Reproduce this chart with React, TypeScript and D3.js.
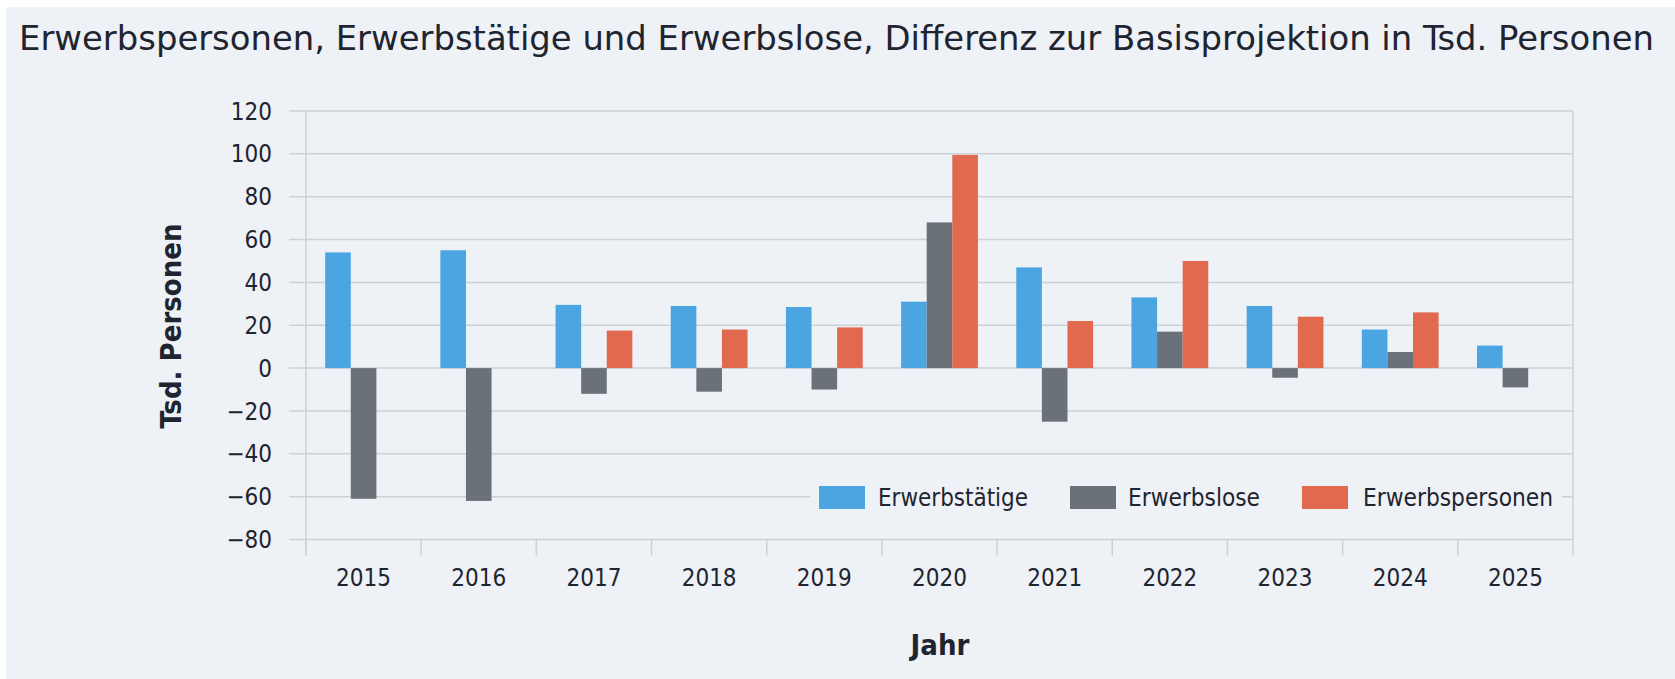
import * as d3 from "d3";

const years = ["2015", "2016", "2017", "2018", "2019", "2020", "2021", "2022", "2023", "2024", "2025"];
const seriesNames = ["Erwerbstätige", "Erwerbslose", "Erwerbspersonen"];
const erwerbstaetige = [54, 55, 29.5, 29, 28.5, 31, 47, 33, 29, 18, 10.5];
const erwerbslose = [-61, -62, -12, -11, -10, 68, -25, 17, -4.5, 7.5, -9];
const erwerbspersonen = [null, null, 17.5, 18, 19, 99.5, 22, 50, 24, 26, null];
const seriesColors = ["#4ba5e0", "#6b7179", "#e1694f"];
const yTicks = [120, 100, 80, 60, 40, 20, 0, -20, -40, -60, -80];

const W = 1675;
const H = 679;
const FONT = "'DejaVu Sans Condensed', 'DejaVu Sans', sans-serif";

export default function App() {
  const left = 306, right = 1573, top = 111, bottom = 539.5;
  const seriesValues = [erwerbstaetige, erwerbslose, erwerbspersonen];

  const x0 = d3.scaleBand().domain(years).range([left, right]).padding(0);
  const x1 = d3.scaleBand().domain(seriesNames).range([0, x0.bandwidth()])
    .paddingInner(0).paddingOuter(0.75);
  const y = d3.scaleLinear().domain([-80, 120]).range([bottom, top]);

  // legend layout
  const swatchX = [819, 1070, 1302];
  const labelX = [878, 1128, 1363];
  const labelW = [150, 132, 190];

  return (
    <svg width={W} height={H} style={{ position: "absolute", left: 0, top: 0, display: "block" }}
      fontFamily={FONT}>
      <rect x={0} y={0} width={W} height={H} fill="#ffffff" />
      <rect x={6} y={7} width={W - 6} height={H - 7} fill="#eef1f5" />

      <text x={19} y={50} fontSize={34} fill="#1e2430" textLength={1635} lengthAdjust="spacingAndGlyphs">
        Erwerbspersonen, Erwerbstätige und Erwerbslose, Differenz zur Basisprojektion in Tsd. Personen
      </text>

      {/* grid */}
      {yTicks.map(t => (
        <line key={t} x1={left - 17} x2={right} y1={y(t)} y2={y(t)} stroke="#cdd1d6" strokeWidth={1.5} />
      ))}
      <line x1={left} x2={left} y1={top} y2={bottom + 16} stroke="#cdd1d6" strokeWidth={1.5} />
      <line x1={right} x2={right} y1={top} y2={bottom + 16} stroke="#cdd1d6" strokeWidth={1.5} />
      {years.map(yr => (
        <line key={yr} x1={x0(yr)} x2={x0(yr)} y1={bottom} y2={bottom + 16} stroke="#cdd1d6" strokeWidth={1.5} />
      ))}

      {/* y tick labels */}
      {yTicks.map(t => (
        <text key={t} x={272} y={y(t)} dy="0.36em" textAnchor="end" fontSize={24} fill="#1e2430">
          {t < 0 ? "\u2212" + Math.abs(t) : t}
        </text>
      ))}

      {/* bars */}
      {years.map((yr, i) => (
        <g key={yr} transform={`translate(${x0(yr)},0)`}>
          {seriesNames.map((s, k) => {
            const v = seriesValues[k][i];
            if (v == null) return null;
            return (
              <rect key={s} x={x1(s)} width={x1.bandwidth()}
                y={y(Math.max(0, v))} height={Math.abs(y(v) - y(0))} fill={seriesColors[k]} />
            );
          })}
        </g>
      ))}

      {/* x tick labels */}
      {years.map(yr => (
        <text key={yr} x={x0(yr)! + x0.bandwidth() / 2} y={586} textAnchor="middle" fontSize={24} fill="#1e2430">
          {yr}
        </text>
      ))}

      {/* legend */}
      <rect x={810} y={470} width={752} height={56} fill="#eef1f5" />
      {seriesNames.map((s, k) => (
        <g key={s}>
          <rect x={swatchX[k]} y={486} width={46} height={23} fill={seriesColors[k]} />
          <text x={labelX[k]} y={506} fontSize={24} fill="#1e2430"
            textLength={labelW[k]} lengthAdjust="spacingAndGlyphs">{s}</text>
        </g>
      ))}

      {/* axis titles */}
      <text transform={`translate(181,326) rotate(-90)`} textAnchor="middle" fontSize={29}
        fontWeight="bold" fill="#1e2430">Tsd. Personen</text>
      <text x={940} y={655} textAnchor="middle" fontSize={29} fontWeight="bold" fill="#1e2430">Jahr</text>
    </svg>
  );
}
